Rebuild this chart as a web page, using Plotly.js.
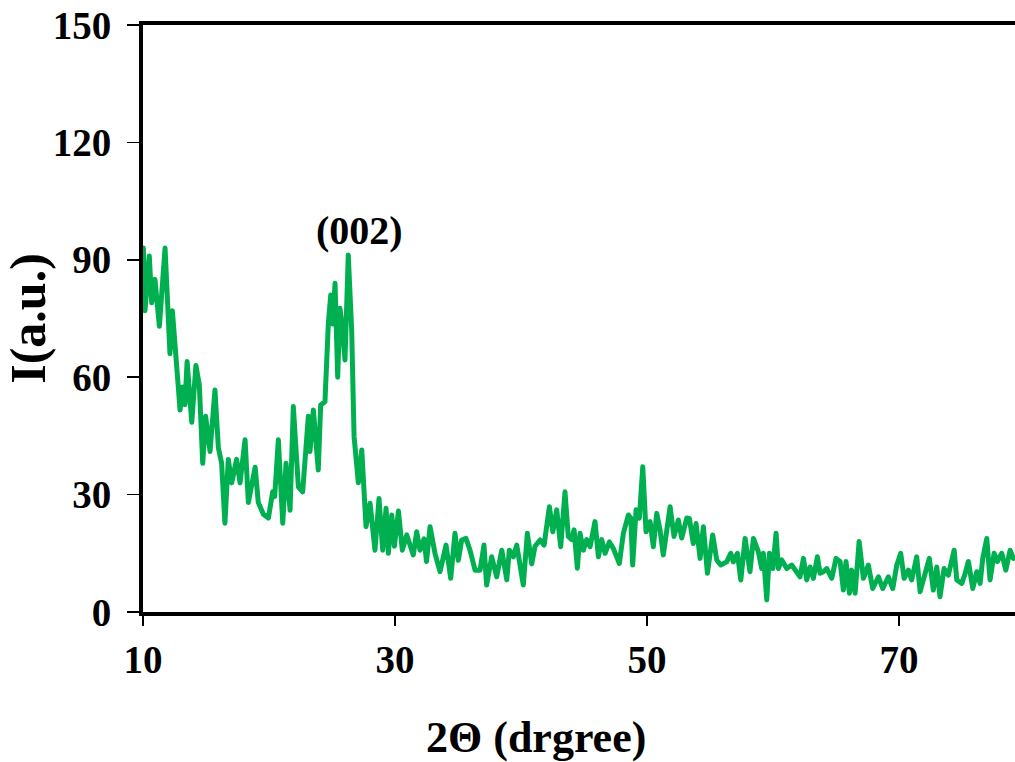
<!DOCTYPE html>
<html>
<head>
<meta charset="utf-8">
<script src="https://cdn.plot.ly/plotly-3.0.1.min.js"></script>
<style>
html,body{margin:0;padding:0;background:#fff;}
#chart{width:1015px;height:762px;}
.scatterlayer .js-line{stroke-linejoin:round;stroke-linecap:round;}
</style>
</head>
<body>
<div id="chart"></div>
<script>
// 2-theta values (degree)
const twoTheta = [
  10.03, 10.16, 10.5, 10.69, 10.95, 11.08, 11.3, 11.48, 11.75, 12.14, 12.33, 12.8, 12.94, 13.15, 13.33, 13.5,
  13.87, 14.2, 14.47, 14.74, 14.97, 15.32, 15.71, 15.98, 16.24, 16.5, 16.77, 17.04, 17.43, 17.7, 18.1, 18.36,
  18.9, 19.15, 19.55, 19.95,
  20.29, 20.45, 20.74, 21.09, 21.35, 21.67, 21.93, 22.33, 22.67, 23.12, 23.25, 23.52, 23.91, 24.1, 24.44,
  24.71, 24.9, 25.05, 25.24, 25.45, 25.63, 25.82, 26.03, 26.29, 26.56, 26.75, 27.09,
  27.36, 27.7, 28.02, 28.41, 28.73, 29.02, 29.29, 29.47, 29.74, 29.95, 30.27, 30.58, 30.93, 31.45, 31.72,
  31.98, 32.3, 32.5, 32.78, 33.17, 33.57, 34.05, 34.42, 34.76, 35.02, 35.29, 35.63, 35.95, 36.35, 36.75,
  37.06, 37.27, 37.67, 38.07, 38.47, 38.87, 39.07, 39.39, 39.66, 40.18, 40.5, 40.85, 41.11, 41.51,
  41.83, 42.25, 42.52, 42.83, 43.15, 43.49, 43.75, 44.02, 44.21, 44.47, 44.68, 44.95, 45.21, 45.48, 45.87,
  46.14, 46.4, 46.67, 47.01, 47.33, 47.8, 48.12, 48.52, 48.71, 48.86, 49.13, 49.39, 49.66, 49.92, 50.24,
  50.5, 50.77, 51.03, 51.29, 51.83, 52.14, 52.48, 52.75, 53.15, 53.36, 53.67, 53.89, 54.21,
  54.47, 54.79, 55.21, 55.53, 55.85, 56.32, 56.64, 56.85, 57.17, 57.44, 57.78, 58.17, 58.44, 58.83, 59.1,
  59.23, 59.5, 59.71, 59.98, 60.24, 60.42, 60.69, 61.09, 61.48, 61.88, 62.14, 62.41, 62.67, 62.94, 63.2,
  63.52, 63.73, 64.0, 64.26, 64.66, 65.0,
  65.32, 65.58, 65.79, 66.06, 66.24, 66.51, 66.83, 67.17, 67.56, 67.91, 68.36, 68.71, 69.15, 69.5, 69.82,
  70.13, 70.4, 70.74, 71.0, 71.4, 71.67, 72.06, 72.4, 72.72, 72.99, 73.25, 73.57, 73.91, 74.37, 74.58,
  74.98, 75.24, 75.5, 75.85, 76.17, 76.43, 76.64, 76.96, 77.22, 77.54, 77.8, 78.15, 78.47, 78.81, 79.07, 79.3
];
// Intensity (a.u.)
const intensity = [
  93, 77, 91, 79, 85, 80, 73, 81, 93, 66, 77, 57.6, 51.6, 57.5, 53, 64,
  48.5, 63, 58, 38, 50, 41, 56.7, 42, 38, 22.7, 39, 33, 39, 33, 44, 28,
  37, 28, 25, 24,
  30.7, 29.5, 44, 22.7, 38, 26, 52.5, 32, 30.7, 50, 41, 51.6, 36.3, 52.9, 53.7,
  73.8, 81, 73.6, 84, 60, 77.6, 72.8, 64.4, 91.2, 72, 44.8, 33,
  41.4, 21.8, 27.8, 15.8, 29, 15.8, 26.5, 15, 24.8, 16.8, 25.8, 15.8, 19.7, 14.6, 20.5,
  15.8, 18.7, 12.9, 21.8, 15, 10.3, 17.1, 8.6, 20.1, 13.2, 18.4, 18.8, 15.8, 10.7, 10.7,
  17.1, 6.9, 14.1, 9, 15.8, 8.2, 15.8, 14.1, 17.1, 6.9, 20.1, 12.3, 16.8, 18.4,
  17.1, 26.9, 20.5, 26.1, 16.7, 30.7, 19.3, 18.5, 21, 11.2, 20.1, 15.8, 18.5, 16.7, 23.1,
  14.1, 18.5, 15, 17.9, 16.2, 12.4, 20.1, 24.8, 24, 12, 26.1, 24, 37.1, 20.5, 23.1,
  16.7, 25.2, 21, 14.6, 26.9, 19.3, 23.5, 18.9, 24, 23.9, 17.5, 22.6, 13.7,
  21.8, 9.9, 19.7, 13.3, 12, 12.8, 15, 12.8, 15, 8.2, 18.8, 10.3, 18.8, 15.4, 11.1,
  15, 3.1, 15, 11.1, 20.1, 11.1, 13.3, 11.1, 12, 9.9, 9, 13.7, 8.2, 11.5, 8.6,
  14.1, 9.9, 10.3, 11.1, 8.6, 13.7,
  12.9, 5.6, 12.9, 4.8, 10.7, 4.8, 18, 8.6, 12, 6, 9, 6, 9, 6, 12,
  15, 8.6, 10.7, 8.2, 14.1, 5.2, 9.4, 13.7, 5.6, 11.5, 3.9, 11.1, 9.4, 15.8, 8.2,
  7.3, 9.8, 12.9, 6, 10.3, 7.3, 13.7, 18.8, 8.2, 15, 12.9, 15, 10.7, 15.8, 13.7, 14
];
const xTickVals = [10, 30, 50, 70];
const yTickVals = [0, 30, 60, 90, 120, 150];
const peakLabel = "(002)";
const xTitle = "2Θ (drgree)";
const yTitle = "I(a.u.)";

const serif = "Liberation Serif, Times New Roman, serif";

const trace = {
  x: twoTheta,
  y: intensity,
  type: "scatter",
  mode: "lines",
  line: {color: "#00B050", width: 5, shape: "linear"},
  hoverinfo: "x+y"
};

const layout = {
  width: 1015,
  height: 762,
  margin: {l: 143, r: 0, t: 25, b: 150, pad: 0},
  paper_bgcolor: "#ffffff",
  plot_bgcolor: "#ffffff",
  showlegend: false,
  font: {family: serif, color: "#000000"},
  xaxis: {
    range: [10, 79.2],
    tickmode: "array",
    tickvals: xTickVals,
    ticktext: xTickVals.map(String),
    ticks: "outside",
    ticklen: 10,
    tickwidth: 1.5,
    tickcolor: "#000",
    showline: true,
    linewidth: 4,
    linecolor: "#000",
    mirror: true,
    showgrid: false,
    zeroline: false,
    automargin: false,
    tickfont: {family: serif, size: 39, weight: "bold", color: "#000"},
    title: {text: ""}
  },
  yaxis: {
    range: [0, 150],
    tickmode: "array",
    tickvals: yTickVals,
    ticktext: yTickVals.map(String),
    ticks: "outside",
    ticklen: 12,
    tickwidth: 1.5,
    tickcolor: "#000",
    showline: true,
    linewidth: 4,
    linecolor: "#000",
    mirror: false,
    showgrid: false,
    zeroline: false,
    automargin: false,
    ticklabelstandoff: 8,
    tickfont: {family: serif, size: 39, weight: "bold", color: "#000"},
    title: {text: yTitle, font: {family: serif, size: 50, weight: "bold", color: "#000"}, standoff: 2}
  },
  annotations: [
    {
      x: 27.2, y: 97.5, xref: "x", yref: "y",
      text: peakLabel, showarrow: false,
      font: {family: serif, size: 40, weight: "bold", color: "#000"}
    },
    {
      x: (536 - 143) / 872, y: -0.214, xref: "paper", yref: "paper",
      text: xTitle, showarrow: false, xanchor: "center", yanchor: "middle",
      font: {family: serif, size: 44, weight: "bold", color: "#000"}
    }
  ]
};

Plotly.newPlot("chart", [trace], layout, {staticPlot: true, displayModeBar: false});
</script>
</body>
</html>
